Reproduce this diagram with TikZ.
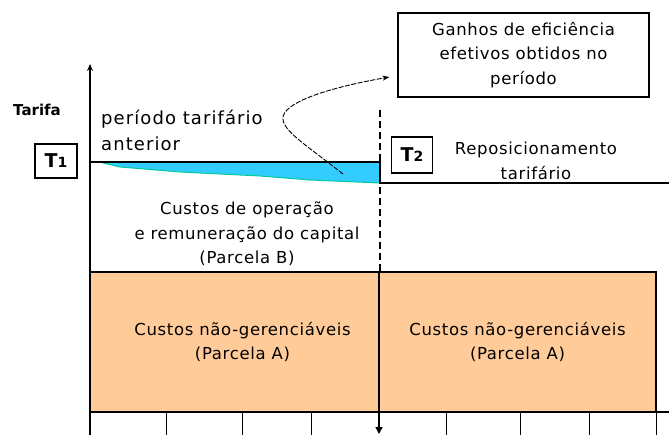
\documentclass[tikz,border=0pt]{standalone}
\usepackage{fontspec}
\setmainfont{DejaVu Sans}
\usetikzlibrary{arrows.meta}
\definecolor{cyanfill}{RGB}{51,204,255}
\definecolor{greenedge}{RGB}{0,204,153}
\definecolor{orangefill}{RGB}{255,204,153}
\newcommand{\bodyfont}{\fontsize{16.5}{24.5}\selectfont\addfontfeature{LetterSpace=4}}
\begin{document}
\begin{tikzpicture}[x=1pt,y=-1pt,
  txt/.style={font=\bodyfont, align=center, inner sep=0pt},
  tbox/.style={draw, line width=1.3pt, inner sep=0pt, font=\bfseries\fontsize{19}{19}\selectfont},
  obox/.style={draw, line width=1.6pt, fill=orangefill, inner sep=0pt},
  axis/.style={line width=1.2pt}]
\useasboundingbox (0,0) rectangle (669,435);
% blue region
\fill[cyanfill] (103,163) -- (120,167) -- (180,172) -- (260,176) -- (310,180) -- (380,183) -- (380,163) -- cycle;
\draw[greenedge, line width=1pt] (103,163) -- (120,167) -- (180,172) -- (260,176) -- (310,180) -- (380,183);
% orange boxes
\node[obox, minimum width=289, minimum height=140] (parA1) at (234.5,342) {};
\node[obox, minimum width=277, minimum height=140] (parA2) at (517.5,342) {};
\node[txt] (parA1t) at ([xshift=8pt]parA1.center) {Custos não-gerenciáveis\\(Parcela A)};
\node[txt] (parA2t) at (parA2.center) {Custos não-gerenciáveis\\(Parcela A)};
% axes
\coordinate (ytop) at (90,64);
\coordinate (ybot) at (90,435);
\draw[axis, -{Stealth[length=7pt,width=6pt]}] (ybot) -- (ytop);
\coordinate (xl) at (90,412);
\coordinate (xr) at (669,412);
\draw[line width=2pt] (xl) -- (xr);
\foreach \x in {166,242,311,446,520,589,656} \draw[line width=1pt] (\x,412) -- (\x,435);
\coordinate (midb) at (379,412);
\coordinate (midt) at (379,434);
\draw[line width=1.4pt, -{Triangle[length=7pt,width=7pt]}] (midb) -- (midt);
% tariff lines
\coordinate (t1l) at (90,162);
\coordinate (t1r) at (380,162);
\coordinate (t2l) at (380,183);
\coordinate (t2r) at (669,183);
\draw[line width=1.2pt] (t1l) -- (t1r) -- (t2l) -- (t2r);
\coordinate (dtop) at (380,110);
\coordinate (dbot) at (380,272);
\draw[line width=1.1pt, dash pattern=on 7pt off 4pt] (dtop) -- (dbot);
% labels
\node[font=\bfseries\fontsize{15}{15}\selectfont, inner sep=0pt] (tarifa) at (37,110) {Tarifa};
\node[tbox, minimum width=42, minimum height=34] (T1) at (56,161) {T{\fontsize{14}{14}\selectfont 1}};
\node[tbox, minimum width=41, minimum height=36] (T2) at (412,155) {T{\fontsize{14}{14}\selectfont 2}};
\node[inner sep=0pt, align=left, anchor=west, font=\fontsize{18}{26}\selectfont\addfontfeature{LetterSpace=6}] (ant) at (101,130) {período tarifário\\anterior};
\node[txt] (parB) at (247,234) {Custos de operação\\e remuneração do capital\\(Parcela B)};
\node[txt] (repos) at (536,161) {Reposicionamento\\tarifário};
\node[draw, line width=1.2pt, minimum width=251, minimum height=84, txt] (ganhos) at (523.5,55) {Ganhos de eficiência\\efetivos obtidos no\\período};
% curved arrow
\coordinate (cstart) at (343,174);
\coordinate (ctip) at ([shift={(-8,22)}]ganhos.west);
\draw[line width=0.9pt, dash pattern=on 5pt off 1.5pt, -{Stealth[length=7pt,width=5pt]}] (cstart) .. controls (300,140) and (272,125) .. (287,110) .. controls (302,95) and (350,84) .. (ctip);
\end{tikzpicture}
\end{document}
